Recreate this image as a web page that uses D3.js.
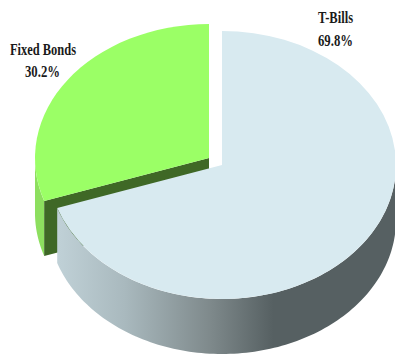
<!DOCTYPE html>
<html>
<head>
<meta charset="utf-8">
<script src="https://cdn.jsdelivr.net/npm/d3@7"></script>
<style>
html, body { margin: 0; padding: 0; background: #fff; }
svg { display: block; }
text { font-family: "Liberation Serif", serif; font-weight: bold; fill: #1a1a1a; }
</style>
</head>
<body>
<svg id="chart" width="395" height="356"></svg>
<script>
// Portfolio split, clockwise from twelve o'clock
const categories = ["T-Bills", "Fixed Bonds"];
const shares = [69.8, 30.2];
const shareLabels = ["69.8%", "30.2%"];

const W = 395, H = 356;
const rx = 174, ry = 134, depth = 55;
// Slice hubs: the bond slice is pulled out up and to the left
const hubs = [{x: 222, y: 165}, {x: 209, y: 158}];

const svg = d3.select("#chart").attr("viewBox", [0, 0, W, H]);
const slices = d3.pie().sort(null).value(d => d)(shares);

const defs = svg.append("defs");
const billGrad = defs.append("linearGradient").attr("id", "billSide")
  .attr("gradientUnits", "userSpaceOnUse")
  .attr("x1", 57).attr("x2", 395).attr("y1", 0).attr("y2", 0);
[[0, "#c0d1d7"], [0.2, "#a9b9be"], [0.45, "#7f8a8c"], [0.64, "#566062"], [1, "#566062"]]
  .forEach(([o, c]) => billGrad.append("stop").attr("offset", o).attr("stop-color", c));

const px = (hub, a) => hub.x + rx * Math.sin(a);
const py = (hub, a) => hub.y - ry * Math.cos(a);
const line = d3.line().x(d => d[0]).y(d => d[1]);

// Outer wall between two angles: top rim forward, bottom rim back
function band(hub, a0, a1) {
  const angles = d3.range(0, 121).map(i => a0 + (a1 - a0) * i / 120);
  const top = angles.map(a => [px(hub, a), py(hub, a)]);
  const bottom = angles.slice().reverse().map(a => [px(hub, a), py(hub, a) + depth]);
  return line(top.concat(bottom)) + "Z";
}

const arcGen = d3.arc().innerRadius(0).outerRadius(1);
const drawTop = (slice, hub, colour) => svg.append("path")
  .attr("d", arcGen(slice))
  .attr("transform", `translate(${hub.x},${hub.y}) scale(${rx},${ry})`)
  .attr("fill", colour);

const [bills, bonds] = slices;
const bondHub = hubs[1], billHub = hubs[0];

// Fixed Bonds: outer wall, cut face, top
svg.append("path").attr("d", band(bondHub, bonds.startAngle, 1.5 * Math.PI)).attr("fill", "#8ddf5f");
const cutX = px(bondHub, bonds.startAngle), cutY = py(bondHub, bonds.startAngle);
svg.append("path")
  .attr("d", line([[bondHub.x, bondHub.y], [cutX, cutY], [cutX, cutY + depth], [bondHub.x, bondHub.y + depth]]) + "Z")
  .attr("fill", "#3f6826");
drawTop(bonds, bondHub, "#9bff66");

// T-Bills: outer wall, top
svg.append("path").attr("d", band(billHub, Math.PI / 2, bills.endAngle)).attr("fill", "url(#billSide)");
drawTop(bills, billHub, "#d8eaf0");

// Labels, set in a narrow bold serif
const labels = [
  {lines: [categories[0], shareLabels[0]], x: [318, 318], y: [23, 45.5], w: [35, 35]},
  {lines: [categories[1], shareLabels[1]], x: [10, 25], y: [55, 77], w: [66, 35]}
];
labels.forEach(l => l.lines.forEach((t, i) => {
  svg.append("text").text(t)
    .attr("x", l.x[i]).attr("y", l.y[i])
    .attr("font-size", 17.5)
    .attr("textLength", l.w[i]).attr("lengthAdjust", "spacingAndGlyphs");
}));
</script>
</body>
</html>
